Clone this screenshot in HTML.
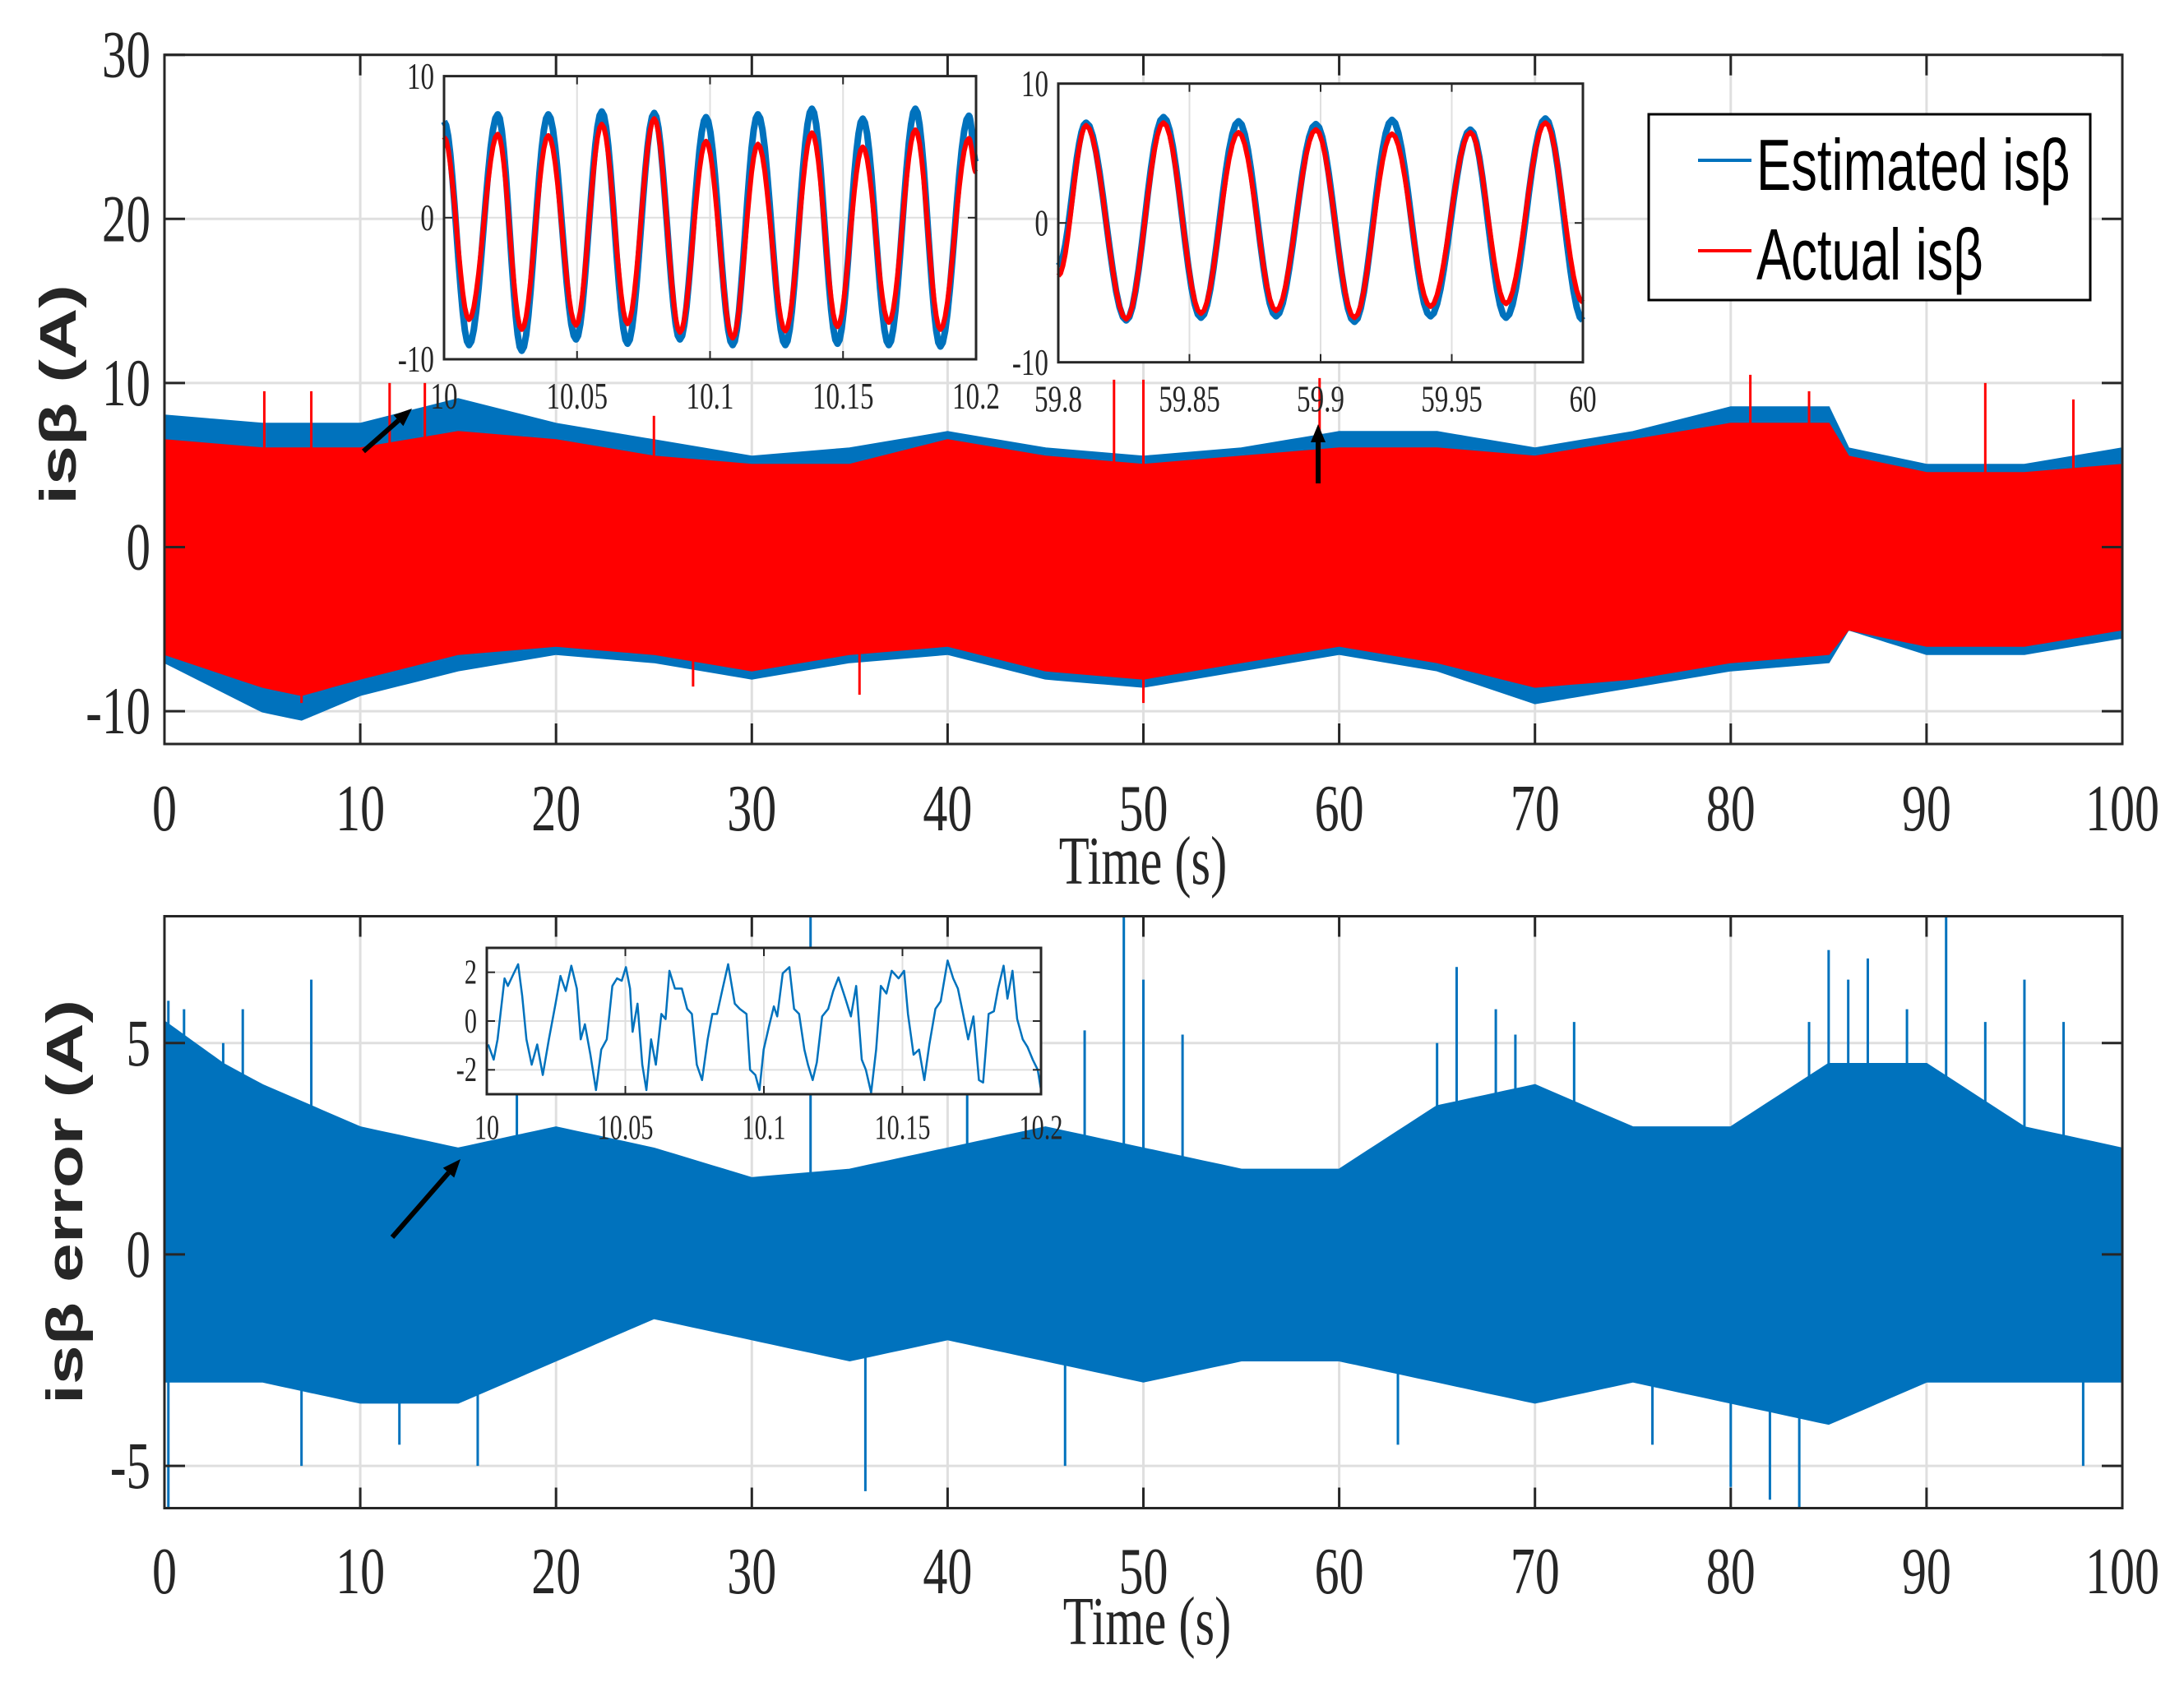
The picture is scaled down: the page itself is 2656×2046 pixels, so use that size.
<!DOCTYPE html>
<html><head><meta charset="utf-8"><style>
html,body{margin:0;padding:0;background:#fff;}
svg{display:block;}
</style></head><body>
<svg id="fig" width="2656" height="2046" viewBox="0 0 2656 2046" xmlns="http://www.w3.org/2000/svg"></svg>
<script>
// ---------- Data ----------
// Top plot envelopes (time s, value A)
const envT = [0,5,7,10,15,20,25,30,35,40,45,50,55,60,65,70,75,80,85,86,90,95,100];
const blueUpper = [8,7.5,7.5,7.5,9,7.5,6.5,5.5,6,7,6,5.5,6,7,7,6,7,8.5,8.5,6,5,5,6];
const blueLower = [-7,-10,-10.5,-9,-7.5,-6.5,-7,-8,-7,-6.5,-8,-8.5,-7.5,-6.5,-7.5,-9.5,-8.5,-7.5,-7,-5,-6.5,-6.5,-5.5];
const redUpper = [6.5,6,6,6,7,6.5,5.5,5,5,6.5,5.5,5,5.5,6,6,5.5,6.5,7.5,7.5,5.5,4.5,4.5,5];
const redLower = [-6.5,-8.5,-9,-8,-6.5,-6,-6.5,-7.5,-6.5,-6,-7.5,-8,-7,-6,-7,-8.5,-8,-7,-6.5,-5,-6,-6,-5];
const redSpikeT = [5.1,7.5,11.5,13.3,25,48.5,50,59,81,84,93,97.5];
const redSpikeV = [9.5,9.5,10,10,8,10.2,10.2,10.3,10.5,9.5,10,9];
const redSpikeLowT = [7,27,50,35.5];
const redSpikeLowV = [-9.5,-8.5,-9.5,-9];
// Bottom plot envelopes
const errT = [0,3,5,10,15,20,25,30,35,40,45,50,55,60,65,70,75,80,85,90,95,100];
const errUpper = [5.5,4.5,4,3,2.5,3,2.5,1.8,2,2.5,3,2.5,2,2,3.5,4,3,3,4.5,4.5,3,2.5];
const errLower = [-3,-3,-3,-3.5,-3.5,-2.5,-1.5,-2,-2.5,-2,-2.5,-3,-2.5,-2.5,-3,-3.5,-3,-3.5,-4,-3,-3,-3];
const errSpikeT = [0.2,1,3,4,7.5,18,33,41,47,49,50,52,65,66,68,69,72,84,85,86,87,89,91,93,95,97];
const errSpikeV = [6,5.8,5,5.8,6.5,4.5,8,5,5.3,8,6.5,5.2,5,6.8,5.8,5.2,5.5,5.5,7.2,6.5,7,5.8,8,5.5,6.5,5.5];
const errSpikeLowT = [0.2,7,12,16,35.8,46,63,76,80,82,83.5,98];
const errSpikeLowV = [-6,-5,-4.5,-5,-5.6,-5,-4.5,-4.5,-5.5,-5.8,-6,-5];
// Inset 1 (10 - 10.2 s) extrema
const in1T = [10.0,10.0094,10.0202,10.0292,10.0392,10.0496,10.0593,10.069,10.079,10.0887,10.0985,10.1085,10.118,10.1283,10.1383,10.1479,10.1574,10.1672,10.1772,10.1866,10.1973,10.2];
const in1Blue = [6.8,-9.0,7.3,-9.4,7.3,-8.6,7.5,-8.9,7.4,-8.6,7.1,-9.0,7.3,-9.0,7.7,-8.9,7.0,-9.0,7.7,-9.1,7.2,3.9];
const in1Red = [5.7,-7.2,5.9,-7.9,5.8,-7.6,6.6,-7.5,7.0,-8.1,5.4,-8.5,5.2,-8.0,6.0,-7.7,5.0,-7.4,6.2,-7.9,5.6,3.2];
// Inset 2 (59.8 - 60 s)
const in2T = [59.8,59.8106,59.8259,59.8401,59.8544,59.8687,59.883,59.8982,59.9129,59.9272,59.9419,59.9571,59.9707,59.9857,60.0];
const in2Blue = [-3.1,7.2,-7.0,7.6,-6.8,7.3,-6.7,7.1,-7.1,7.4,-6.7,6.7,-6.8,7.5,-7.0];
const in2Red = [-3.8,7.0,-6.9,7.2,-6.5,6.5,-6.3,6.7,-6.8,6.4,-6.0,6.5,-5.8,7.2,-5.7];
// Inset 3 error (ms after 10 s, value)
const in3Ms = [0.5,2.5,3.9,6.4,7.6,9.3,11.3,12.8,14.3,16.2,18.2,20.2,22.4,24.8,26.6,28.5,30.5,32.5,33.9,35.4,37.4,39.4,41.3,43.3,45.3,47.0,48.7,50.2,51.7,52.6,54.4,56.1,57.6,59.3,61.0,63.0,64.5,65.9,67.9,70.4,72.3,74.0,75.8,77.7,79.7,81.4,83.1,85.1,87.1,89.5,91.3,93.7,95.0,96.9,98.4,99.9,101.8,103.6,104.8,106.8,109.2,110.9,112.7,114.6,115.9,117.6,119.1,121.0,123.2,125.0,126.9,129.4,131.4,133.3,135.3,136.8,138.7,140.5,142.2,144.2,146.1,148.6,150.6,152.0,154.0,156.0,157.9,159.7,161.9,163.8,166.3,168.3,170.0,171.7,173.7,175.6,177.6,179.1,181.1,183.0,184.5,186.5,187.9,189.7,191.4,193.4,195.1,197.0,198.8,200];
const in3Val = [-0.96,-1.58,-0.75,1.75,1.44,1.85,2.33,1.02,-0.75,-1.79,-0.96,-2.21,-0.75,0.71,1.85,1.23,2.27,1.33,-0.75,-0.13,-1.38,-2.83,-1.17,-0.75,1.44,1.75,1.65,2.21,1.33,-0.44,0.71,-1.79,-2.83,-0.75,-1.79,0.29,0.08,2.06,1.33,1.33,0.5,0.29,-1.79,-2.42,-0.75,0.29,0.29,1.33,2.33,0.71,0.5,0.29,-2.0,-2.21,-2.83,-1.17,-0.23,0.6,0.19,1.96,2.21,0.5,0.29,-1.17,-1.79,-2.42,-1.69,0.19,0.5,1.23,1.79,0.92,0.19,1.44,-1.58,-2.0,-2.94,-1.17,1.44,1.13,2.06,1.75,2.06,0.29,-1.38,-1.17,-2.42,-0.96,0.5,0.81,2.48,1.75,1.33,0.4,-0.75,0.19,-2.42,-2.52,0.29,0.4,1.33,2.27,0.92,2.06,0.08,-0.75,-1.06,-1.58,-2.0,-2.83];
const xTicks = [0,10,20,30,40,50,60,70,80,90,100];
const topYTicks = [30,20,10,0,-10];
const botYTicks = [5,0,-5];
const in1XTicks = [10,10.05,10.1,10.15,10.2];
const in1XLabels = ["10","10.05","10.1","10.15","10.2"];
const in2XTicks = [59.8,59.85,59.9,59.95,60];
const in2XLabels = ["59.8","59.85","59.9","59.95","60"];
const inYTicks = [10,0,-10];
const in3YTicks = [2,0,-2];

// ---------- helpers ----------
const NS = "http://www.w3.org/2000/svg";
const svg = document.getElementById('fig');
function mk(tag, attrs, parent){ const e=document.createElementNS(NS,tag); for(const k in attrs) e.setAttribute(k,attrs[k]); (parent||svg).appendChild(e); return e; }
function lin(d0,d1,r0,r1){ return v => r0 + (v-d0)/(d1-d0)*(r1-r0); }
function interp(xs, ys, x){ for(let i=0;i<xs.length-1;i++){ if(x<=xs[i+1]){ const f=(x-xs[i])/(xs[i+1]-xs[i]); return ys[i]+f*(ys[i+1]-ys[i]); } } return ys[ys.length-1]; }
function txt(x,y,s,size,anchor,fam,sx,parent,name){
  const t=mk('text',{transform:`translate(${x},${y}) scale(${sx},1)`,'font-size':size,'text-anchor':anchor,'font-family':fam,fill:'#262626'},parent);
  t.textContent=s;
  
  
  return t;
}
const SERIF='"Liberation Serif", serif', SANS='"Liberation Sans", sans-serif';
// smooth curve through extrema (cosine interpolation)
function extremaPath(ts, vs, X, Y){
  let d='';
  for(let i=0;i<ts.length-1;i++){
    for(let k=0;k<=12;k++){
      const f=k/12, w=(1-Math.cos(Math.PI*f))/2;
      const t=ts[i]+f*(ts[i+1]-ts[i]), v=vs[i]+w*(vs[i+1]-vs[i]);
      d += (d?'L':'M')+X(t).toFixed(1)+','+Y(v).toFixed(1);
    }
  }
  return d;
}
function axesBox(g,x0,y0,x1,y1,sw,name){
  const r=mk('rect',{x:x0,y:y0,width:x1-x0,height:y1-y0,fill:'none',stroke:'#262626','stroke-width':sw},g);
  
  
}

// ---------- TOP PLOT ----------
const L=200,R=2581;
const X = lin(0,100,L,R);
const tTop=66.7, tBot=905;
const YT = lin(30,-12,tTop,tBot);
const gTop=mk('g',{});


mk('rect',{x:L,y:tTop,width:R-L,height:tBot-tTop,fill:'#fff'},gTop);
xTicks.forEach(v=>{ mk('line',{x1:X(v),x2:X(v),y1:tTop,y2:tBot,stroke:'#dfdfdf','stroke-width':3},gTop); });
topYTicks.forEach(v=>{ mk('line',{x1:L,x2:R,y1:YT(v),y2:YT(v),stroke:'#dfdfdf','stroke-width':3},gTop); });
function envPath(ts, up, lo, X, Y, step){
  let top='', bot=[];
  for(let t=0;t<=100.0001;t+=step){
    top += (top?'L':'M')+X(t).toFixed(1)+','+Y(interp(ts,up,t)).toFixed(1);
    bot.push('L'+X(t).toFixed(1)+','+Y(interp(ts,lo,t)).toFixed(1));
  }
  return top+bot.reverse().join('')+'Z';
}
const blueEnv=mk('path',{d:envPath(envT,blueUpper,blueLower,X,YT,0.5),fill:'#0072bd',stroke:'#0072bd','stroke-width':3},gTop);


const redEnv=mk('path',{d:envPath(envT,redUpper,redLower,X,YT,0.5),fill:'#ff0000',stroke:'#ff0000','stroke-width':3},gTop);


redSpikeT.forEach((t,i)=>{ const s=mk('line',{x1:X(t),x2:X(t),y1:YT(interp(envT,redUpper,t)),y2:YT(redSpikeV[i]),stroke:'#ff0000','stroke-width':3},gTop);
    });
redSpikeLowT.forEach((t,i)=>{ const s=mk('line',{x1:X(t),x2:X(t),y1:YT(interp(envT,redLower,t)),y2:YT(redSpikeLowV[i]),stroke:'#ff0000','stroke-width':3},gTop);
    });
xTicks.forEach(v=>{ mk('line',{x1:X(v),x2:X(v),y1:tBot,y2:tBot-25,stroke:'#262626','stroke-width':3},gTop); mk('line',{x1:X(v),x2:X(v),y1:tTop,y2:tTop+25,stroke:'#262626','stroke-width':3},gTop); });
topYTicks.forEach(v=>{ mk('line',{x1:L,x2:L+25,y1:YT(v),y2:YT(v),stroke:'#262626','stroke-width':3},gTop); mk('line',{x1:R,x2:R-25,y1:YT(v),y2:YT(v),stroke:'#262626','stroke-width':3},gTop); });
axesBox(gTop,L,tTop,R,tBot,3,'top-axes-box');
xTicks.forEach(v=>txt(X(v),1010,String(v),80,'middle',SERIF,0.75,gTop,'x-tick-label'));
topYTicks.forEach(v=>txt(183,YT(v)+27,String(v),82,'end',SERIF,0.72,gTop,'y-tick-label'));
txt(1390,1075,'Time (s)',84,'middle',SERIF,0.72,gTop,'x-axis-title');
const yl1=mk('text',{transform:'translate(92,480) rotate(-90) scale(1,0.72)','font-size':86,'text-anchor':'middle','font-family':SANS,fill:'#262626','font-weight':'bold'},gTop);
yl1.textContent='isβ (A)';



// legend
const gLeg=mk('g',{});


mk('rect',{x:2005,y:139,width:537,height:226,fill:'#fff',stroke:'#000','stroke-width':3},gLeg);
mk('line',{x1:2065,x2:2130,y1:195,y2:195,stroke:'#0072bd','stroke-width':4},gLeg);
mk('line',{x1:2065,x2:2130,y1:305,y2:305,stroke:'#ff0000','stroke-width':4},gLeg);
const le1=txt(2136,231,'Estimated isβ',88,'start',SANS,0.72,gLeg,'legend-entry-estimated'); le1.setAttribute('fill','#000');
const le2=txt(2136,340,'Actual isβ',88,'start',SANS,0.72,gLeg,'legend-entry-actual'); le2.setAttribute('fill','#000');

// arrows
function arrow(x1,y1,x2,y2,name){
  const g=mk('g',{});  
  const a=Math.atan2(y2-y1,x2-x1), h=22, w=9;
  const bx=x2-h*Math.cos(a), by=y2-h*Math.sin(a);
  mk('line',{x1:x1,y1:y1,x2:bx,y2:by,stroke:'#000','stroke-width':6},g);
  mk('polygon',{points:`${x2},${y2} ${bx+w*Math.sin(a)},${by-w*Math.cos(a)} ${bx-w*Math.sin(a)},${by+w*Math.cos(a)}`,fill:'#000'},g);
}
arrow(442,549,501,497,'zoom-arrow-1');
arrow(1603,588,1603,516,'zoom-arrow-2');

// inset builder
function inset(x0,y0,x1,y1,tMin,tMax,yMin,yMax,xt,xl,yt,name,fs){
  const g=mk('g',{});  
  mk('rect',{x:x0,y:y0,width:x1-x0,height:y1-y0,fill:'#fff'},g);
  const XI=lin(tMin,tMax,x0,x1), YI=lin(yMax,yMin,y0,y1);
  xt.forEach(v=>mk('line',{x1:XI(v),x2:XI(v),y1:y0,y2:y1,stroke:'#dfdfdf','stroke-width':2},g));
  yt.forEach(v=>mk('line',{x1:x0,x2:x1,y1:YI(v),y2:YI(v),stroke:'#dfdfdf','stroke-width':2},g));
  return {g,XI,YI,fin(){
    xt.forEach(v=>{mk('line',{x1:XI(v),x2:XI(v),y1:y1,y2:y1-10,stroke:'#262626','stroke-width':2},g);mk('line',{x1:XI(v),x2:XI(v),y1:y0,y2:y0+10,stroke:'#262626','stroke-width':2},g);});
    yt.forEach(v=>{mk('line',{x1:x0,x2:x0+10,y1:YI(v),y2:YI(v),stroke:'#262626','stroke-width':2},g);mk('line',{x1:x1,x2:x1-10,y1:YI(v),y2:YI(v),stroke:'#262626','stroke-width':2},g);});
    axesBox(g,x0,y0,x1,y1,3,name+'-box');
    xt.forEach((v,i)=>txt(XI(v),y1+(fs*1.3),xl[i],fs,'middle',SERIF,0.72,g,'inset-x-tick-label'));
    yt.forEach(v=>txt(x0-12,YI(v)+fs*0.33,String(v),fs,'end',SERIF,0.72,g,'inset-y-tick-label'));
  }};
}
const i1=inset(540,92.6,1187,437,10,10.2,-10,10,in1XTicks,in1XLabels,inYTicks,'inset-zoom-10s',46);
let p=mk('path',{d:extremaPath(in1T,in1Blue,i1.XI,i1.YI),fill:'none',stroke:'#0072bd','stroke-width':8,'stroke-linejoin':'round'},i1.g);
 
p=mk('path',{d:extremaPath(in1T,in1Red,i1.XI,i1.YI),fill:'none',stroke:'#ff0000','stroke-width':6,'stroke-linejoin':'round'},i1.g);
 
i1.fin();
const i2=inset(1287,101.7,1925,440.7,59.8,60,-10,10,in2XTicks,in2XLabels,inYTicks,'inset-zoom-60s',46);
p=mk('path',{d:extremaPath(in2T,in2Blue,i2.XI,i2.YI),fill:'none',stroke:'#0072bd','stroke-width':8,'stroke-linejoin':'round'},i2.g);
 
p=mk('path',{d:extremaPath(in2T,in2Red,i2.XI,i2.YI),fill:'none',stroke:'#ff0000','stroke-width':6,'stroke-linejoin':'round'},i2.g);
 
i2.fin();

// ---------- BOTTOM PLOT ----------
const bTop=1114.5, bBot=1834.5;
const YB = lin(8,-6,bTop,bBot);
const gBot=mk('g',{});


xTicks.forEach(v=>mk('line',{x1:X(v),x2:X(v),y1:bTop,y2:bBot,stroke:'#dfdfdf','stroke-width':3},gBot));
botYTicks.forEach(v=>mk('line',{x1:L,x2:R,y1:YB(v),y2:YB(v),stroke:'#dfdfdf','stroke-width':3},gBot));
const errEnv=mk('path',{d:envPath(errT,errUpper,errLower,X,YB,0.5),fill:'#0072bd',stroke:'#0072bd','stroke-width':3},gBot);


errSpikeT.forEach((t,i)=>{ const s=mk('line',{x1:X(t),x2:X(t),y1:YB(interp(errT,errUpper,t)),y2:YB(errSpikeV[i]),stroke:'#0072bd','stroke-width':3},gBot);
    });
errSpikeLowT.forEach((t,i)=>{ const s=mk('line',{x1:X(t),x2:X(t),y1:YB(interp(errT,errLower,t)),y2:YB(errSpikeLowV[i]),stroke:'#0072bd','stroke-width':3},gBot);
    });
xTicks.forEach(v=>{ mk('line',{x1:X(v),x2:X(v),y1:bBot,y2:bBot-25,stroke:'#262626','stroke-width':3},gBot); mk('line',{x1:X(v),x2:X(v),y1:bTop,y2:bTop+25,stroke:'#262626','stroke-width':3},gBot); });
botYTicks.forEach(v=>{ mk('line',{x1:L,x2:L+25,y1:YB(v),y2:YB(v),stroke:'#262626','stroke-width':3},gBot); mk('line',{x1:R,x2:R-25,y1:YB(v),y2:YB(v),stroke:'#262626','stroke-width':3},gBot); });
axesBox(gBot,L,bTop,R,bBot,3,'bottom-axes-box');
xTicks.forEach(v=>txt(X(v),1938,String(v),80,'middle',SERIF,0.75,gBot,'x-tick-label'));
botYTicks.forEach(v=>txt(183,YB(v)+27,String(v),82,'end',SERIF,0.72,gBot,'y-tick-label'));
txt(1395,2000,'Time (s)',84,'middle',SERIF,0.72,gBot,'x-axis-title');
const yl2=mk('text',{transform:'translate(100,1462) rotate(-90) scale(1,0.72)','font-size':86,'text-anchor':'middle','font-family':SANS,fill:'#262626','font-weight':'bold'},gBot);
yl2.textContent='isβ error (A)';


arrow(477,1505,560,1410,'zoom-arrow-3');
const i3=inset(592,1153,1266,1331,10,10.2,-3,3,in1XTicks,in1XLabels,in3YTicks,'inset-error-zoom',42);
let d3='';
in3Ms.forEach((ms,i)=>{ d3+=(d3?'L':'M')+i3.XI(10+ms/1000).toFixed(1)+','+i3.YI(in3Val[i]).toFixed(1); });
p=mk('path',{d:d3,fill:'none',stroke:'#0072bd','stroke-width':2.5,'stroke-linejoin':'round'},i3.g);
 
i3.fin();
</script>
</body></html>
